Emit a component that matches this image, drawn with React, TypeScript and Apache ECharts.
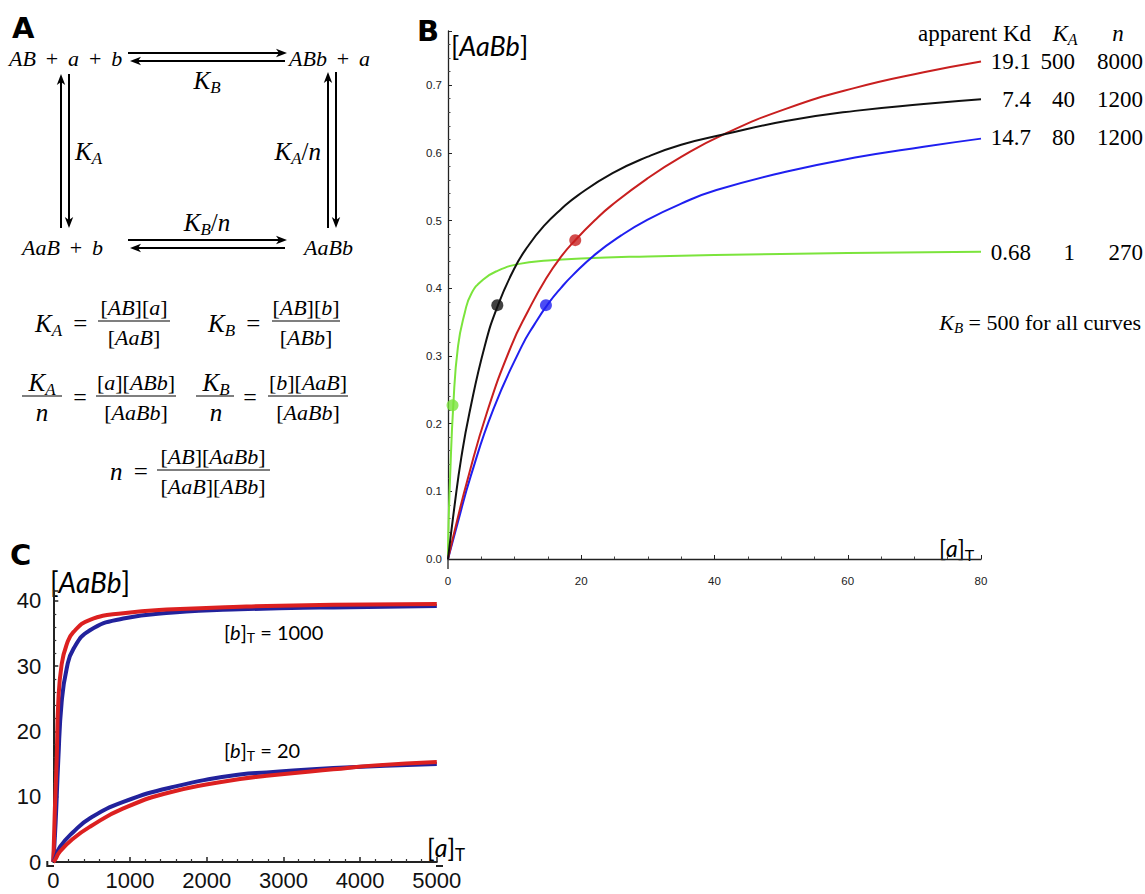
import React, { useEffect, useRef } from 'react';
import * as echarts from 'echarts';

// ---------- Panel B data ([a]T , [AaBb]) ----------
const bGreen: [number, number][] = [[0, 0], [0.05, 0.04], [0.3, 0.117], [0.8, 0.228], [1.5, 0.314], [2.5, 0.363], [3.5, 0.392], [5.3, 0.413], [7.5, 0.426], [10.7, 0.436], [15, 0.441], [20, 0.444], [30, 0.447], [40, 0.449], [60, 0.452], [80, 0.454]];
const bBlack: [number, number][] = [[0, 0], [1, 0.08], [2, 0.15], [3.2, 0.215], [5.5, 0.314], [7.5, 0.375], [10, 0.43], [12, 0.462], [14.4, 0.492], [17, 0.517], [19.6, 0.538], [24.7, 0.57], [29.9, 0.594], [35, 0.612], [41.3, 0.627], [50.7, 0.647], [61.1, 0.662], [71.4, 0.672], [80, 0.679]];
const bRed: [number, number][] = [[0, 0], [1.4, 0.058], [2.9, 0.116], [5.8, 0.215], [9.5, 0.315], [12, 0.366], [14.7, 0.414], [17, 0.447], [19.2, 0.472], [22, 0.5], [24.5, 0.522], [29.9, 0.562], [35, 0.594], [41.3, 0.627], [50.7, 0.665], [61.1, 0.696], [71.4, 0.719], [80, 0.735]];
const bBlue: [number, number][] = [[0, 0], [1.5, 0.055], [3.4, 0.122], [6.8, 0.221], [11, 0.313], [13, 0.347], [15.1, 0.378], [17, 0.401], [18.7, 0.419], [22.1, 0.45], [26, 0.478], [29.9, 0.501], [35, 0.525], [40.3, 0.545], [50.7, 0.572], [61.1, 0.593], [71.4, 0.609], [80, 0.621]];
const bDotNames = ['red', 'black', 'blue', 'green'];
const bDotX = [19.1, 7.4, 14.7, 0.68];
const bDotY = [0.471, 0.375, 0.375, 0.227];

const tableHeader = ['apparent Kd', 'K_A', 'n'];
const tableKd = ['19.1', '7.4', '14.7', '0.68'];
const tableKA = ['500', '40', '80', '1'];
const tableN = ['8000', '1200', '1200', '270'];

// ---------- Panel C data ([a]T , [AaBb]) ----------
const cRed1000: [number, number][] = [[0, 0], [20, 8], [44, 15.6], [65, 24.5], [109, 30.3], [174, 33.3], [261, 35.2], [478, 37.1], [913, 38.1], [1565, 38.7], [2434, 39.1], [3650, 39.4], [5000, 39.5]];
const cBlue1000: [number, number][] = [[0, 0], [30, 6], [65, 15.6], [109, 24.5], [174, 29.6], [261, 32.6], [478, 35.5], [913, 37.3], [1565, 38.2], [2434, 38.7], [3650, 39.0], [5000, 39.2]];
const cBlue20: [number, number][] = [[0, 0], [22, 0.5], [87, 2.3], [261, 4.6], [478, 6.7], [913, 9.2], [1565, 11.5], [2434, 13.4], [2783, 13.7], [3650, 14.4], [5000, 15.0]];
const cRed20: [number, number][] = [[0, 0], [22, 0.3], [87, 1.6], [261, 3.6], [478, 5.4], [913, 8.2], [1565, 10.8], [2434, 12.7], [2783, 13.2], [3650, 14.2], [4200, 14.8], [5000, 15.3]];

const SERIF = '"Liberation Serif", "DejaVu Serif", serif';
const SANS = '"Liberation Sans", Arial, sans-serif';
const LABEL_SANS = 'Lato, "Open Sans", sans-serif';
const PLUS = ' \u2009+\u2009 ';

function toRich(expr: string): string {
  let out = '';
  let cur = '';
  let curStyle = '';
  const flush = () => {
    if (cur) out += `{${curStyle}|${cur}}`;
    cur = '';
  };
  for (let i = 0; i < expr.length; i++) {
    const ch = expr[i];
    if (ch === '_') {
      flush();
      out += `{s|${expr[i + 1]}}`;
      i++;
      continue;
    }
    const st = /[A-Za-z]/.test(ch) ? 'i' : 'r';
    if (st !== curStyle) {
      flush();
      curStyle = st;
    }
    cur += ch;
  }
  flush();
  return out;
}

function richFor(size: number, family = SERIF) {
  return {
    i: { fontFamily: family, fontSize: size, fontStyle: 'italic', fill: '#000' },
    r: { fontFamily: family, fontSize: size, fill: '#000' },
    s: { fontFamily: family, fontSize: Math.round(size * 0.68), fontStyle: 'italic', fill: '#000', padding: [Math.round(size * 0.55), 0, 0, 0] },
    u: { fontFamily: family, fontSize: Math.round(size * 0.68), fill: '#000', padding: [Math.round(size * 0.55), 0, 0, 0] },
  };
}

function mtext(x: number, y: number, expr: string, size: number, align = 'left') {
  return {
    type: 'text', x, y, silent: true,
    style: { text: toRich(expr), rich: richFor(size), align, verticalAlign: 'middle', fill: '#000', font: `${size}px ${SERIF}` },
  };
}

function rtext(x: number, y: number, text: string, size: number, family: string, align = 'left') {
  return {
    type: 'text', x, y, silent: true,
    style: { text, rich: richFor(size, family), align, verticalAlign: 'middle', fill: '#000', font: `${size}px ${family}` },
  };
}

function ptext(x: number, y: number, text: string, font: string, align = 'left') {
  return { type: 'text', x, y, silent: true, style: { text, font, align, verticalAlign: 'middle', fill: '#000' } };
}

function hline(x1: number, x2: number, y: number, w = 1) {
  return { type: 'line', silent: true, shape: { x1, y1: y, x2, y2: y }, style: { stroke: '#000', lineWidth: w } };
}

function arrow(x1: number, y1: number, x2: number, y2: number) {
  const dx = x2 - x1, dy = y2 - y1;
  const L = Math.hypot(dx, dy);
  const ux = dx / L, uy = dy / L;
  const hl = 11, hw = 4.2;
  const bx = x2 - ux * hl, by = y2 - uy * hl;
  return [
    { type: 'line', silent: true, shape: { x1, y1, x2: bx + ux * 3, y2: by + uy * 3 }, style: { stroke: '#000', lineWidth: 2 } },
    {
      type: 'polygon', silent: true,
      shape: { points: [[x2, y2], [bx - uy * hw, by + ux * hw], [bx + ux * 3, by + uy * 3], [bx + uy * hw, by - ux * hw]] },
      style: { fill: '#000' },
    },
  ];
}

function frac(cx: number, yBar: number, num: string, den: string, size: number, x1: number, x2: number, gap = 13) {
  return [
    mtext(cx, yBar - gap, num, size, 'center'),
    hline(x1, x2, yBar, 1.2),
    mtext(cx, yBar + gap + 2, den, size, 'center'),
  ];
}

const bColors: Record<string, string> = { red: '#c81f1f', black: '#111111', blue: '#1f1ff0', green: '#7be43c' };

export default function App() {
  const ref = useRef<HTMLDivElement>(null);
  useEffect(() => {
    if (!ref.current) return;
    const chart = echarts.init(ref.current, undefined, { renderer: 'svg' });

    const axisLineB = { show: true, lineStyle: { color: '#222', width: 1.3 } };
    const graphics: any[] = [];

    // ----- Panel A -----
    graphics.push(ptext(12, 28, 'A', `900 29px "DejaVu Sans", ${SANS}`));
    graphics.push(mtext(9, 58, `AB${PLUS}a${PLUS}b`, 22));
    graphics.push(mtext(289, 58, `ABb${PLUS}a`, 22));
    graphics.push(...arrow(128, 53, 287, 53));
    graphics.push(...arrow(285, 61, 130, 61));
    graphics.push(mtext(207, 80, 'K_B', 25, 'center'));
    graphics.push(...arrow(61, 228, 61, 74));
    graphics.push(...arrow(69, 74, 69, 228));
    graphics.push(mtext(75, 151, 'K_A', 25));
    graphics.push(...arrow(328, 228, 328, 72));
    graphics.push(...arrow(336, 72, 336, 228));
    graphics.push(mtext(321, 151, 'K_A/n', 25, 'right'));
    graphics.push(mtext(207, 222, 'K_B/n', 25, 'center'));
    graphics.push(mtext(22, 247, `AaB${PLUS}b`, 22));
    graphics.push(mtext(304, 247, 'AaBb', 22));
    graphics.push(...arrow(128, 240, 287, 240));
    graphics.push(...arrow(285, 248, 130, 248));

    // equations
    graphics.push(mtext(35, 323, 'K_A \u2009=', 25));
    graphics.push(...frac(134, 321, '[AB][a]', '[AaB]', 22, 98, 170, 14));
    graphics.push(mtext(208, 323, 'K_B \u2009=', 25));
    graphics.push(...frac(306, 321, '[AB][b]', '[ABb]', 22, 272, 340, 14));
    graphics.push(...frac(42, 396, 'K_A', 'n', 25, 22, 62, 14));
    graphics.push(mtext(80, 397, '=', 24, 'center'));
    graphics.push(...frac(136, 396, '[a][ABb]', '[AaBb]', 22, 96, 176, 14));
    graphics.push(...frac(216, 396, 'K_B', 'n', 25, 196, 234, 14));
    graphics.push(mtext(250, 397, '=', 24, 'center'));
    graphics.push(...frac(308, 396, '[b][AaB]', '[AaBb]', 22, 268, 348, 14));
    graphics.push(mtext(110, 471, 'n \u2009=', 25));
    graphics.push(...frac(213, 470, '[AB][AaBb]', '[AaB][ABb]', 22, 157, 270, 14));

    // ----- Panel B decorations -----
    graphics.push(ptext(417, 31, 'B', `900 29px "DejaVu Sans", ${SANS}`));
    graphics.push(rtext(451, 45, '{r|[}{i|AaBb}{r|]}', 27, LABEL_SANS));
    graphics.push(rtext(939, 548, '{r|[}{i|a}{r|]}{u|T}', 23, LABEL_SANS));
    graphics.push({ type: 'line', silent: true, shape: { x1: 448, y1: 558, x2: 448, y2: 569 }, style: { stroke: '#222', lineWidth: 1.3 } });
    // table
    const tbl = 23;
    graphics.push(ptext(1031, 33, tableHeader[0], `${tbl}px ${SERIF}`, 'right'));
    graphics.push(mtext(1065, 33, tableHeader[1], tbl, 'center'));
    graphics.push(mtext(1118, 33, tableHeader[2], tbl, 'center'));
    const rowY = [61, 99, 137, 252];
    rowY.forEach((y, i) => {
      graphics.push(ptext(1031, y, tableKd[i], `${tbl}px ${SERIF}`, 'right'));
      graphics.push(ptext(1075, y, tableKA[i], `${tbl}px ${SERIF}`, 'right'));
      graphics.push(ptext(1143, y, tableN[i], `${tbl}px ${SERIF}`, 'right'));
    });
    graphics.push(rtext(1141, 322, '{i|K}{s|B}{r| = 500 for all curves}', 22, SERIF, 'right'));

    // ----- Panel C decorations -----
    graphics.push(ptext(10, 555, 'C', `900 29px "DejaVu Sans", ${SANS}`));
    graphics.push(rtext(50, 582, '{r|[}{i|AaBb}{r|]}', 28, LABEL_SANS));
    graphics.push(rtext(427, 847, '{r|[}{i|a}{r|]}{u|T}', 25, LABEL_SANS));
    graphics.push(rtext(224, 632, '{r|[}{i|b}{r|]}{u|T}{r| = 1000}', 20, LABEL_SANS));
    graphics.push(rtext(224, 750, '{r|[}{i|b}{r|]}{u|T}{r| = 20}', 20, LABEL_SANS));
    graphics.push({ type: 'line', silent: true, shape: { x1: 47.3, y1: 866, x2: 54, y2: 866 }, style: { stroke: '#222', lineWidth: 2 } });
    graphics.push({ type: 'line', silent: true, shape: { x1: 47.3, y1: 861, x2: 47.3, y2: 867 }, style: { stroke: '#222', lineWidth: 2 } });
    graphics.push({ type: 'line', silent: true, shape: { x1: 436, y1: 866, x2: 443, y2: 866 }, style: { stroke: '#222', lineWidth: 2 } });

    const lineSeries = (data: [number, number][], color: string, width: number, grid: number) => ({
      type: 'line', data, xAxisIndex: grid, yAxisIndex: grid, showSymbol: false, smooth: 0.5,
      lineStyle: { color, width }, itemStyle: { color }, silent: true, z: 3,
    });

    const option: any = {
      animation: false,
      backgroundColor: '#ffffff',
      grid: [
        { left: 448, top: 31, width: 533, height: 528 },
        { left: 53.3, top: 590.4, width: 383.5, height: 271.6 },
      ],
      xAxis: [
        {
          type: 'value', gridIndex: 0, min: 0, max: 80, interval: 20, offset: 10,
          axisLine: axisLineB, splitLine: { show: false },
          axisTick: { inside: true, length: 4, lineStyle: { color: '#222' } },
          minorTick: { show: true, splitNumber: 4, length: 2.5, lineStyle: { color: '#444' } },
          axisLabel: { fontSize: 11.5, color: '#222', fontFamily: SANS, margin: 6 },
        },
        {
          type: 'value', gridIndex: 1, min: 0, max: 5000, interval: 1000, offset: 4,
          axisLine: { show: true, lineStyle: { color: '#222', width: 2 } }, splitLine: { show: false },
          axisTick: { inside: true, length: 5, lineStyle: { color: '#222', width: 1.5 } },
          minorTick: { show: true, splitNumber: 5, length: 3, lineStyle: { color: '#333', width: 1.2 } },
          axisLabel: { fontSize: 22, color: '#111', fontFamily: SANS, margin: 3, formatter: (v: number) => String(v) },
        },
      ],
      yAxis: [
        {
          type: 'value', gridIndex: 0, min: 0, max: 0.78, interval: 0.1,
          axisLine: axisLineB, splitLine: { show: false },
          axisTick: { inside: true, length: 4, lineStyle: { color: '#222' } },
          minorTick: { show: true, splitNumber: 5, length: 2.5, lineStyle: { color: '#444' } },
          axisLabel: {
            fontSize: 11.5, color: '#222', fontFamily: SANS, margin: 6, showMaxLabel: false,
            formatter: (v: number) => (Math.abs(v * 10 - Math.round(v * 10)) < 1e-6 ? v.toFixed(1) : ''),
          },
        },
        {
          type: 'value', gridIndex: 1, min: 0, max: 41.6, interval: 10, offset: 6,
          axisLine: { show: true, lineStyle: { color: '#222', width: 2 } }, splitLine: { show: false },
          axisTick: { inside: true, length: 5, lineStyle: { color: '#222', width: 1.5 } },
          minorTick: { show: true, splitNumber: 5, length: 3, lineStyle: { color: '#333', width: 1.2 } },
          axisLabel: {
            fontSize: 22, color: '#111', fontFamily: SANS, margin: 6, showMaxLabel: false,
            formatter: (v: number) => (v % 10 === 0 ? String(v) : ''),
          },
        },
      ],
      series: [
        lineSeries(bGreen, bColors.green, 2, 0),
        lineSeries(bBlue, bColors.blue, 2, 0),
        lineSeries(bRed, bColors.red, 2, 0),
        lineSeries(bBlack, bColors.black, 2, 0),
        {
          type: 'scatter', xAxisIndex: 0, yAxisIndex: 0, symbolSize: 12, z: 5, silent: true,
          data: bDotX.map((x, i) => ({ value: [x, bDotY[i]], itemStyle: { color: bColors[bDotNames[i]] } })),
        },
        lineSeries(cBlue1000, '#22229c', 4, 1),
        lineSeries(cRed1000, '#dc2020', 4, 1),
        lineSeries(cBlue20, '#22229c', 4, 1),
        lineSeries(cRed20, '#dc2020', 4, 1),
      ],
      graphic: graphics,
    };
    chart.setOption(option);
    return () => chart.dispose();
  }, []);

  return (
    <div
      ref={ref}
      style={{ position: 'fixed', left: 0, top: 0, width: 1145, height: 894, background: '#fff' }}
    />
  );
}
